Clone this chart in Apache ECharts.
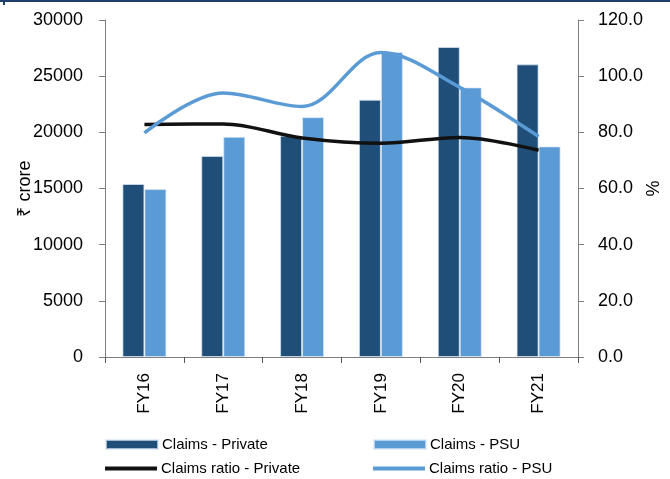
<!DOCTYPE html>
<html>
<head>
<meta charset="utf-8">
<script src="https://cdn.jsdelivr.net/npm/echarts@6/dist/echarts.min.js"></script>
<style>
  html, body { margin: 0; padding: 0; background: #fff; }
  #chart { width: 670px; height: 479px; }
</style>
</head>
<body>
<div id="chart"></div>
<script>
// data
const years = ['FY16', 'FY17', 'FY18', 'FY19', 'FY20', 'FY21']
const claimsPrivate = [15400, 17900, 19700, 22900, 27600, 26050]
const claimsPSU = [14950, 19600, 21350, 27150, 24000, 18750]
const ratioPrivate = [82.8, 83.0, 78.0, 76.1, 78.2, 73.6]
const ratioPSU = [79.8, 94.0, 89.2, 108.4, 96.0, 78.5]

const darkBlue = '#1f4e79'
const lightBlue = '#5b9bd5'
const font = '"Liberation Sans", Arial, sans-serif'

const chart = echarts.init(document.getElementById('chart'))

// one legend per item so they sit in a 2x2 grid like the original
const legendItem = (name, left, top, isLine) => ({
  left: left,
  top: top,
  padding: 0,
  itemWidth: 52,
  itemHeight: isLine ? 4 : 9,
  icon: 'rect',
  data: [name],
  textStyle: { fontFamily: font, fontSize: 15, color: '#000', padding: [0, 0, 0, -1] }
})

const option = {
  backgroundColor: '#fff',
  textStyle: { fontFamily: font },
  animation: false,
  graphic: [
    { type: 'rect', shape: { x: 0, y: 0, width: 670, height: 2 }, style: { fill: '#1f3f6e' } },
    { type: 'rect', shape: { x: 3, y: 0, width: 2, height: 5 }, style: { fill: '#1f3f6e' } }
  ],
  grid: { left: 105, right: 92, top: 20, bottom: 122, outerBoundsMode: 'none', containLabel: false },
  legend: [
    legendItem('Claims - Private', 105, 437, false),
    legendItem('Claims - PSU', 373, 437, false),
    legendItem('Claims ratio - Private', 105, 461, true),
    legendItem('Claims ratio - PSU', 373, 461, true)
  ],
  xAxis: {
    type: 'category',
    data: years,
    axisLine: { lineStyle: { color: '#7f7f7f', width: 1 } },
    axisTick: { show: true, length: 6, lineStyle: { color: '#555' } },
    axisLabel: { rotate: 90, margin: 16, fontSize: 17, color: '#000', fontFamily: font }
  },
  yAxis: [
    {
      type: 'value',
      min: 0,
      max: 30000,
      interval: 5000,
      name: '₹ crore',
      nameLocation: 'middle',
      nameGap: 71,
      nameMoveOverlap: false,
      nameTextStyle: { fontSize: 18, color: '#000', fontFamily: font },
      axisLine: { show: true, lineStyle: { color: '#7f7f7f' } },
      axisTick: { show: true, length: 6, lineStyle: { color: '#7f7f7f' } },
      axisLabel: { margin: 22, fontSize: 18, color: '#000', fontFamily: font, formatter: (v) => String(v) },
      splitLine: { show: false }
    },
    {
      type: 'value',
      min: 0,
      max: 120,
      interval: 20,
      name: '%',
      nameLocation: 'middle',
      nameGap: 67,
      nameRotate: 90,
      nameMoveOverlap: false,
      nameTextStyle: { fontSize: 18, color: '#000', fontFamily: font },
      axisLine: { show: true, lineStyle: { color: '#7f7f7f' } },
      axisTick: { show: true, length: 6, lineStyle: { color: '#7f7f7f' } },
      axisLabel: { margin: 20, fontSize: 18, color: '#000', fontFamily: font, formatter: (v) => v.toFixed(1) },
      splitLine: { show: false }
    }
  ],
  series: [
    {
      name: 'Claims - Private',
      type: 'bar',
      data: claimsPrivate,
      barWidth: 22,
      barGap: '0%',
      itemStyle: { color: darkBlue, borderColor: 'rgba(220,232,245,0.7)', borderWidth: 1 }
    },
    {
      name: 'Claims - PSU',
      type: 'bar',
      data: claimsPSU,
      barWidth: 22,
      itemStyle: { color: lightBlue, borderColor: 'rgba(220,232,245,0.7)', borderWidth: 1 }
    },
    {
      name: 'Claims ratio - Private',
      type: 'line',
      yAxisIndex: 1,
      data: ratioPrivate,
      smooth: 0.35,
      symbol: 'none',
      lineStyle: { color: '#111', width: 3.5 },
      itemStyle: { color: '#111' }
    },
    {
      name: 'Claims ratio - PSU',
      type: 'line',
      yAxisIndex: 1,
      data: ratioPSU,
      smooth: 0.35,
      symbol: 'none',
      lineStyle: { color: lightBlue, width: 3.5 },
      itemStyle: { color: lightBlue }
    }
  ]
}

chart.setOption(option)
</script>
</body>
</html>
